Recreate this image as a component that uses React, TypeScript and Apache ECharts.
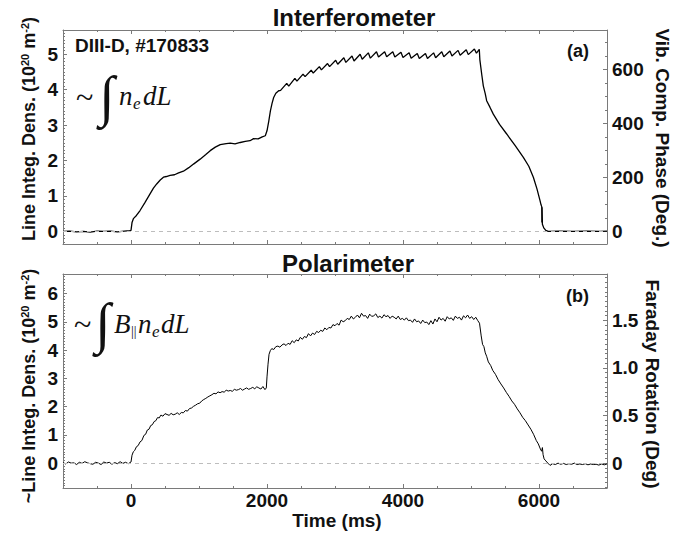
import React, { useEffect, useRef } from "react";
import * as echarts from "echarts";

// ---------- data (time in ms, value in 10^20 m^-2) ----------
const interferometer: [number, number][] = [
  [-1000, 0.0], [-900, 0.01], [-800, -0.01], [-700, 0.0], [-600, -0.02], [-500, 0.01], [-400, 0.0],
  [-300, 0.01], [-200, -0.01], [-100, 0.01], [-20, 0.02], [0, 0.03],
  [15, 0.25], [35, 0.36], [80, 0.45], [133, 0.59], [200, 0.8], [280, 1.06], [330, 1.22], [378, 1.34],
  [430, 1.45], [477, 1.53], [520, 1.55], [575, 1.58], [640, 1.6], [700, 1.65], [771, 1.7], [850, 1.8],
  [919, 1.9], [1017, 2.04], [1100, 2.17], [1165, 2.28], [1240, 2.38], [1312, 2.45], [1400, 2.48],
  [1460, 2.49], [1530, 2.47], [1607, 2.51], [1680, 2.54], [1750, 2.56], [1803, 2.62], [1870, 2.61],
  [1930, 2.67], [1975, 2.7], [2000, 2.84], [2025, 3.1], [2050, 3.4], [2075, 3.62], [2098, 3.78],
  [2130, 3.9], [2172, 3.97],
  [2200, 3.98], [2290, 4.18], [2320, 4.1], [2410, 4.32], [2440, 4.24], [2530, 4.44], [2560, 4.37],
  [2650, 4.55], [2680, 4.47], [2770, 4.65], [2800, 4.56], [2890, 4.74], [2920, 4.65], [3010, 4.83],
  [3040, 4.72], [3130, 4.9], [3160, 4.77], [3250, 4.95], [3280, 4.81], [3370, 5.0], [3400, 4.86],
  [3490, 5.04], [3520, 4.89], [3610, 5.07], [3640, 4.92], [3730, 5.07], [3760, 4.93], [3850, 5.07],
  [3880, 4.92], [3970, 5.06], [4000, 4.91], [4090, 5.04], [4120, 4.89], [4210, 5.02], [4240, 4.88],
  [4330, 5.02], [4360, 4.88], [4450, 5.04], [4480, 4.9], [4570, 5.07], [4600, 4.93], [4690, 5.09],
  [4720, 4.95], [4810, 5.11], [4840, 4.97], [4930, 5.13], [4960, 4.99], [5050, 5.15], [5080, 5.03],
  [5122, 5.14], [5130, 4.85], [5160, 4.4], [5181, 4.11], [5210, 3.88], [5230, 3.69], [5280, 3.5],
  [5328, 3.31], [5420, 3.02], [5525, 2.75], [5650, 2.42], [5770, 2.09], [5850, 1.84], [5917, 1.53],
  [5970, 1.2], [6015, 0.87], [6030, 0.75], [6040, 0.7], [6042, 0.25], [6046, 0.68], [6050, 0.2],
  [6070, 0.1], [6100, 0.03], [6137, 0.0], [6300, 0.01], [6500, 0.0], [6700, 0.01], [6900, 0.0],
  [7000, 0.01],
];

const polarimeter: [number, number][] = [
  [-1000, 0.02], [-960, -0.03], [-920, 0.04], [-880, 0.0], [-840, 0.01], [-800, -0.05], [-760, 0.03],
  [-720, -0.01], [-680, 0.05], [-640, 0.01], [-600, -0.02], [-560, -0.04], [-520, 0.03], [-480, 0.0],
  [-440, -0.05], [-400, 0.04], [-360, 0.0], [-320, 0.03], [-280, -0.04], [-240, 0.02], [-200, -0.02],
  [-160, 0.05], [-120, -0.01], [-80, 0.03], [-40, -0.02], [0, 0.04],
  [15, 0.28], [34, 0.4], [55, 0.45], [80, 0.58], [105, 0.62], [133, 0.75], [160, 0.8], [190, 0.98],
  [215, 1.02], [240, 1.17], [265, 1.2], [290, 1.33], [315, 1.36], [340, 1.47], [365, 1.5], [390, 1.61],
  [415, 1.6], [440, 1.7], [470, 1.66], [500, 1.75], [530, 1.72], [560, 1.69], [590, 1.76], [620, 1.71],
  [650, 1.73], [680, 1.78], [710, 1.72], [740, 1.79], [770, 1.78], [800, 1.86], [830, 1.84], [860, 1.93],
  [890, 1.95], [920, 2.01], [950, 2.05], [980, 2.1], [1010, 2.12], [1040, 2.2], [1070, 2.25],
  [1100, 2.29], [1130, 2.34], [1160, 2.38], [1190, 2.42], [1220, 2.47], [1250, 2.45], [1280, 2.52],
  [1310, 2.49], [1340, 2.53], [1370, 2.51], [1400, 2.58], [1430, 2.55], [1460, 2.57], [1490, 2.54],
  [1520, 2.61], [1550, 2.58], [1580, 2.6], [1610, 2.64], [1640, 2.58], [1670, 2.62], [1700, 2.66],
  [1730, 2.61], [1760, 2.64], [1790, 2.68], [1820, 2.63], [1850, 2.7], [1880, 2.66], [1910, 2.62],
  [1940, 2.71], [1970, 2.6], [1990, 2.66], [2000, 3.05], [2015, 3.5], [2030, 3.85], [2049, 3.98],
  [2070, 4.05], [2100, 4.02], [2130, 4.12], [2160, 4.14], [2190, 4.1], [2220, 4.18], [2250, 4.22],
  [2280, 4.16], [2310, 4.24], [2340, 4.2], [2370, 4.33], [2400, 4.26], [2430, 4.36], [2460, 4.32],
  [2490, 4.45], [2520, 4.38], [2550, 4.48], [2580, 4.44], [2610, 4.58], [2640, 4.5], [2670, 4.6],
  [2700, 4.55], [2730, 4.66], [2760, 4.62], [2790, 4.7], [2820, 4.66], [2850, 4.78], [2880, 4.72],
  [2910, 4.8], [2940, 4.78], [2970, 4.9], [3000, 4.86], [3030, 4.94], [3060, 4.88], [3090, 5.06],
  [3120, 5.0], [3150, 5.04], [3180, 5.12], [3210, 5.08], [3240, 5.2], [3270, 5.1], [3300, 5.16],
  [3330, 5.24], [3360, 5.14], [3390, 5.3], [3420, 5.2], [3450, 5.22], [3480, 5.12], [3510, 5.27],
  [3540, 5.19], [3570, 5.21], [3600, 5.28], [3630, 5.15], [3660, 5.2], [3690, 5.13], [3720, 5.25],
  [3750, 5.18], [3780, 5.22], [3810, 5.12], [3840, 5.2], [3870, 5.16], [3900, 5.1], [3930, 5.2],
  [3960, 5.08], [3990, 5.12], [4020, 5.06], [4050, 5.14], [4080, 5.04], [4110, 5.06], [4140, 4.98],
  [4170, 5.1], [4200, 5.0], [4230, 5.03], [4260, 4.94], [4290, 5.06], [4320, 4.97], [4350, 4.99],
  [4380, 4.9], [4410, 5.04], [4440, 4.92], [4470, 5.1], [4500, 5.0], [4530, 5.16], [4560, 5.06],
  [4590, 5.12], [4620, 5.02], [4650, 5.18], [4680, 5.1], [4710, 5.14], [4740, 5.05], [4770, 5.2],
  [4800, 5.12], [4830, 5.16], [4860, 5.06], [4890, 5.21], [4920, 5.14], [4950, 5.24], [4980, 5.12],
  [5010, 5.18], [5040, 5.08], [5070, 5.16], [5100, 5.04], [5125, 4.95], [5150, 4.5], [5170, 4.2],
  [5190, 4.12], [5210, 3.9], [5230, 3.78], [5255, 3.58], [5290, 3.45], [5320, 3.28], [5360, 3.14],
  [5400, 2.95], [5440, 2.8], [5480, 2.66], [5520, 2.5], [5560, 2.36], [5600, 2.2], [5640, 2.08],
  [5680, 1.92], [5720, 1.78], [5760, 1.62], [5800, 1.5], [5840, 1.35], [5880, 1.2], [5920, 1.02],
  [5960, 0.8], [5990, 0.68], [6020, 0.5], [6039, 0.42], [6050, 0.55], [6060, 0.3], [6075, 0.15],
  [6100, 0.08], [6130, 0.0], [6162, -0.08], [6200, -0.02], [6240, -0.05], [6280, 0.0], [6320, -0.04],
  [6360, -0.01], [6400, -0.05], [6440, -0.02], [6480, -0.04], [6520, 0.0], [6560, -0.05], [6600, -0.03],
  [6640, -0.05], [6680, -0.02], [6720, -0.06], [6760, -0.03], [6800, -0.05], [6840, -0.04], [6880, -0.07],
  [6920, -0.03], [6960, -0.06], [7000, -0.03],
];

// ---------- axes ----------
const xMajor = [0, 2000, 4000, 6000];
const topLeftMajor = [0, 1, 2, 3, 4, 5];
const topRightMajor = [0, 200, 400, 600];
const botLeftMajor = [0, 1, 2, 3, 4, 5, 6];
const botRightMajor = [0, 0.5, 1.0, 1.5];

const X_MIN = -1000, X_MAX = 7000;
const TL = [-0.355, 5.685];
const TR = [-46.5, 745.3];
const BL = [-0.88, 6.69];
const BR = [-0.261, 1.987];

function minorTicks(from: number, to: number, step: number, majors: number[]) {
  const out: number[] = [];
  const n = Math.round((to - from) / step);
  for (let i = 0; i <= n; i++) {
    const v = Math.round((from + i * step) * 1000) / 1000;
    if (!majors.some((m) => Math.abs(m - v) < 1e-6)) out.push(v);
  }
  return out;
}

const FONT = "Liberation Sans";
const GREY = "#7a7a7a";

export default function App() {
  const ref = useRef<HTMLDivElement>(null);
  useEffect(() => {
    if (!ref.current) return;
    const chart = echarts.init(ref.current, null, { renderer: "svg" });

    const xMinor = minorTicks(-500, 6500, 500, xMajor);
    const tlMinor = minorTicks(-0.3, 5.6, 0.1, topLeftMajor);
    const trMinor = minorTicks(50, 700, 50, topRightMajor);
    const blMinor = minorTicks(-0.8, 6.6, 0.1, botLeftMajor);
    const brMinor = minorTicks(-0.25, 1.95, 0.05, botRightMajor);

    const label = { fontFamily: FONT, fontWeight: "bold", fontSize: 19, color: "#111" };

    const xAx = (grid: number, pos: string, ticks: number[], len: number, line: boolean, labels: boolean) => ({
      type: "value",
      gridIndex: grid,
      position: pos,
      min: X_MIN,
      max: X_MAX,
      axisLine: { show: line, onZero: false, lineStyle: { color: GREY, width: 1 } },
      axisTick: { show: true, inside: true, length: len, customValues: ticks, lineStyle: { color: GREY } },
      axisLabel: labels
        ? { show: true, customValues: xMajor, margin: 3, formatter: (v: number) => String(v), ...label }
        : { show: false },
      splitLine: { show: false },
    });

    const yAx = (grid: number, pos: string, range: number[], ticks: number[], len: number, line: boolean, labels: number[] | null, fmt?: (v: number) => string) => ({
      type: "value",
      gridIndex: grid,
      position: pos,
      min: range[0],
      max: range[1],
      axisLine: { show: line, onZero: false, lineStyle: { color: GREY, width: 1 } },
      axisTick: { show: true, inside: true, length: len, customValues: ticks, lineStyle: { color: GREY } },
      axisLabel: labels
        ? { show: true, customValues: labels, margin: 5, formatter: fmt || ((v: number) => String(v)), ...label }
        : { show: false },
      splitLine: { show: false },
    });

    const zeroLine = {
      silent: true,
      symbol: ["none", "none"],
      label: { show: false },
      lineStyle: { color: "#bdbdbd", type: [4, 4], width: 1 },
      data: [{ yAxis: 0 }],
    };

    const sup = { fontSize: 11, fontFamily: FONT, fontWeight: "bold", verticalAlign: "top", lineHeight: 20 };
    const nameStyle = (text: string, size: number) => ({
      text,
      font: `bold ${size}px "${FONT}"`,
      fill: "#111",
      textAlign: "center",
      textVerticalAlign: "middle",
      lineHeight: 20,
      rich: { sup },
    });

    const serif = "Liberation Serif";
    const t = (x: number, y: number, text: string, font: string, align = "left") => ({
      type: "text",
      x,
      y,
      style: { text, font, fill: "#111", textAlign: align, textVerticalAlign: "middle" },
    });

    chart.setOption({
      animation: false,
      backgroundColor: "#fff",
      grid: [
        { left: 63, top: 30, width: 544, height: 214, outerBoundsMode: "none" },
        { left: 63, top: 274, width: 544, height: 214, outerBoundsMode: "none" },
      ],
      xAxis: [
        xAx(0, "bottom", xMinor, 2, true, false),
        xAx(0, "bottom", xMajor, 4, false, false),
        xAx(0, "top", xMinor, 2, true, false),
        xAx(0, "top", xMajor, 4, false, false),
        xAx(1, "bottom", xMinor, 2, true, false),
        xAx(1, "bottom", xMajor, 4, false, true),
        xAx(1, "top", xMinor, 2, true, false),
        xAx(1, "top", xMajor, 4, false, false),
      ],
      yAxis: [
        yAx(0, "left", TL, tlMinor, 2, true, null),
        yAx(0, "left", TL, topLeftMajor, 4, false, topLeftMajor),
        yAx(0, "right", TR, trMinor, 2, true, null),
        yAx(0, "right", TR, topRightMajor, 4, false, topRightMajor),
        yAx(1, "left", BL, blMinor, 2, true, null),
        yAx(1, "left", BL, botLeftMajor, 4, false, botLeftMajor),
        yAx(1, "right", BR, brMinor, 2, true, null),
        yAx(1, "right", BR, botRightMajor, 4, false, botRightMajor, (v: number) => (v === 0 ? "0" : v.toFixed(1))),
      ],
      series: [
        {
          type: "line",
          xAxisIndex: 0,
          yAxisIndex: 0,
          data: interferometer,
          symbol: "none",
          lineStyle: { color: "#000", width: 1.3 },
          markLine: zeroLine,
          z: 3,
        },
        {
          type: "line",
          xAxisIndex: 4,
          yAxisIndex: 4,
          data: polarimeter,
          symbol: "none",
          lineStyle: { color: "#000", width: 1 },
          markLine: zeroLine,
          z: 3,
        },
      ],
      graphic: [
        t(354, 17, "Interferometer", `bold 24px "${FONT}"`, "center"),
        t(348, 263, "Polarimeter", `bold 24px "${FONT}"`, "center"),
        t(337, 520, "Time (ms)", `bold 19px "${FONT}"`, "center"),
        t(75, 45, "DIII-D, #170833", `bold 19px "${FONT}"`),
        t(589, 51, "(a)", `bold 18px "${FONT}"`, "right"),
        t(589, 296, "(b)", `bold 18px "${FONT}"`, "right"),
        {
          type: "text", x: 29, y: 129, rotation: Math.PI / 2,
          style: nameStyle("Line Integ. Dens. (10{sup|20} m{sup|-2})", 18),
        },
        {
          type: "text", x: 29, y: 386, rotation: Math.PI / 2,
          style: nameStyle("~Line Integ. Dens. (10{sup|20} m{sup|-2})", 18),
        },
        {
          type: "text", x: 662, y: 138, rotation: -Math.PI / 2,
          style: nameStyle("Vib. Comp. Phase (Deg.)", 19),
        },
        {
          type: "text", x: 652, y: 384, rotation: -Math.PI / 2,
          style: nameStyle("Faraday Rotation (Deg)", 19),
        },
        // ~ ∫ n_e dL
        t(76, 97, "~", `32px "${serif}"`),
        t(99, 96, "∫", `56px "${serif}"`),
        t(119, 96, "n", `italic 27px "${serif}"`),
        t(133, 103, "e", `italic 17px "${serif}"`),
        t(143, 96, "dL", `italic 27px "${serif}"`),
        // ~ ∫ B_|| n_e dL
        t(74, 324, "~", `32px "${serif}"`),
        t(95, 323, "∫", `56px "${serif}"`),
        t(114, 324, "B", `italic 27px "${serif}"`),
        t(131, 331, "||", `14px "${serif}"`),
        t(138, 324, "n", `italic 27px "${serif}"`),
        t(152, 331, "e", `italic 17px "${serif}"`),
        t(161, 324, "dL", `italic 27px "${serif}"`),
      ],
    });
    return () => chart.dispose();
  }, []);
  return (
    <div
      ref={ref}
      style={{ position: "fixed", left: 0, top: 0, width: 684, height: 533, background: "#fff" }}
    />
  );
}
